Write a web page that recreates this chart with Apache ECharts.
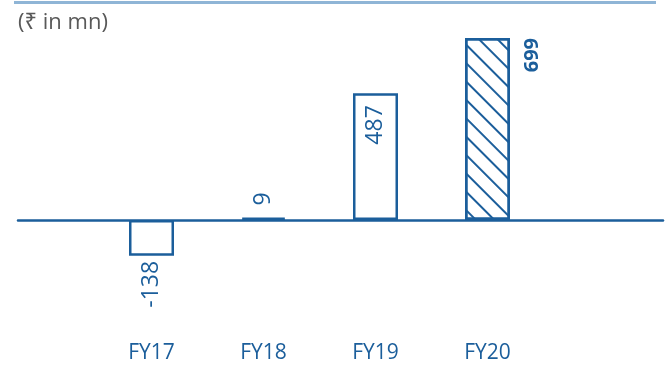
<!DOCTYPE html>
<html>
<head>
<meta charset="utf-8">
<script src="https://cdn.jsdelivr.net/npm/echarts@6/dist/echarts.min.js"></script>
<style>
  html, body { margin: 0; padding: 0; background: #fff; }
  #chart { width: 668px; height: 366px; }
</style>
</head>
<body>
<div id="chart"></div>
<script>
// Net profit by fiscal year
const categories = ['FY17', 'FY18', 'FY19', 'FY20'];
const values = [-138, 9, 487, 699];
const unitLabel = '(₹ in mn)';

const BLUE = '#1b5e9b';
const FONT = "'Open Sans', 'Noto Sans', 'DejaVu Sans', sans-serif";

// Per-bar label placement: the latest year is hatched and its label is bold, beside the bar
const labelFor = (v, i) => {
  const base = { show: true, rotate: 90, color: BLUE, fontFamily: FONT, fontSize: 23, verticalAlign: 'middle' };
  if (i === values.length - 1) {
    return Object.assign(base, { position: ['150%', 0], align: 'right', fontWeight: 'bold', fontSize: 20 });
  }
  if (v < 0) return Object.assign(base, { position: 'bottom', align: 'right', distance: 5 });
  if (v < 100) return Object.assign(base, { position: 'top', align: 'left', distance: 12 });
  return Object.assign(base, { position: 'insideTop', align: 'right', distance: 12 });
};

const barData = values.map((v, i) => ({
  value: v,
  label: labelFor(v, i),
  itemStyle: i === values.length - 1 ? {
    color: '#fff', borderColor: BLUE, borderWidth: 2.5,
    decal: { symbol: 'rect', symbolSize: 1, color: BLUE, dashArrayX: [1, 0], dashArrayY: [2, 11], rotation: Math.PI / 4 }
  } : { color: '#fff', borderColor: BLUE, borderWidth: 2.5 }
}));

const yRange = { min: -300, max: 699 };

const chart = echarts.init(document.getElementById('chart'), null, { renderer: 'canvas' });
chart.setOption({
  animation: false,
  title: {
    text: unitLabel, left: 13, top: 7,
    textStyle: { fontFamily: FONT, fontSize: 22, fontWeight: 'normal', color: '#595959' }
  },
  graphic: [{
    type: 'rect', left: 14, top: 1,
    shape: { width: 642, height: 3 },
    style: { fill: '#8fb5d6' }
  }],
  grid: [
    { left: 18, right: 5, top: 38, bottom: 68 },
    { left: 95.5, width: 448, top: 38, bottom: 68 }
  ],
  xAxis: [
    {
      gridIndex: 0, type: 'category', data: categories,
      axisLine: { show: true, onZero: true, lineStyle: { color: BLUE, width: 2.5 } },
      axisTick: { show: false }, axisLabel: { show: false }, splitLine: { show: false }
    },
    {
      gridIndex: 1, type: 'category', data: categories,
      axisLine: { show: false, onZero: false }, axisTick: { show: false },
      axisLabel: { color: BLUE, fontFamily: FONT, fontSize: 21, margin: 45 }
    }
  ],
  yAxis: [
    Object.assign({ gridIndex: 0, type: 'value', show: false }, yRange),
    Object.assign({ gridIndex: 1, type: 'value', show: false }, yRange)
  ],
  series: [{
    type: 'bar', xAxisIndex: 1, yAxisIndex: 1,
    barWidth: 45, data: barData, z: 3
  }]
});
</script>
</body>
</html>
